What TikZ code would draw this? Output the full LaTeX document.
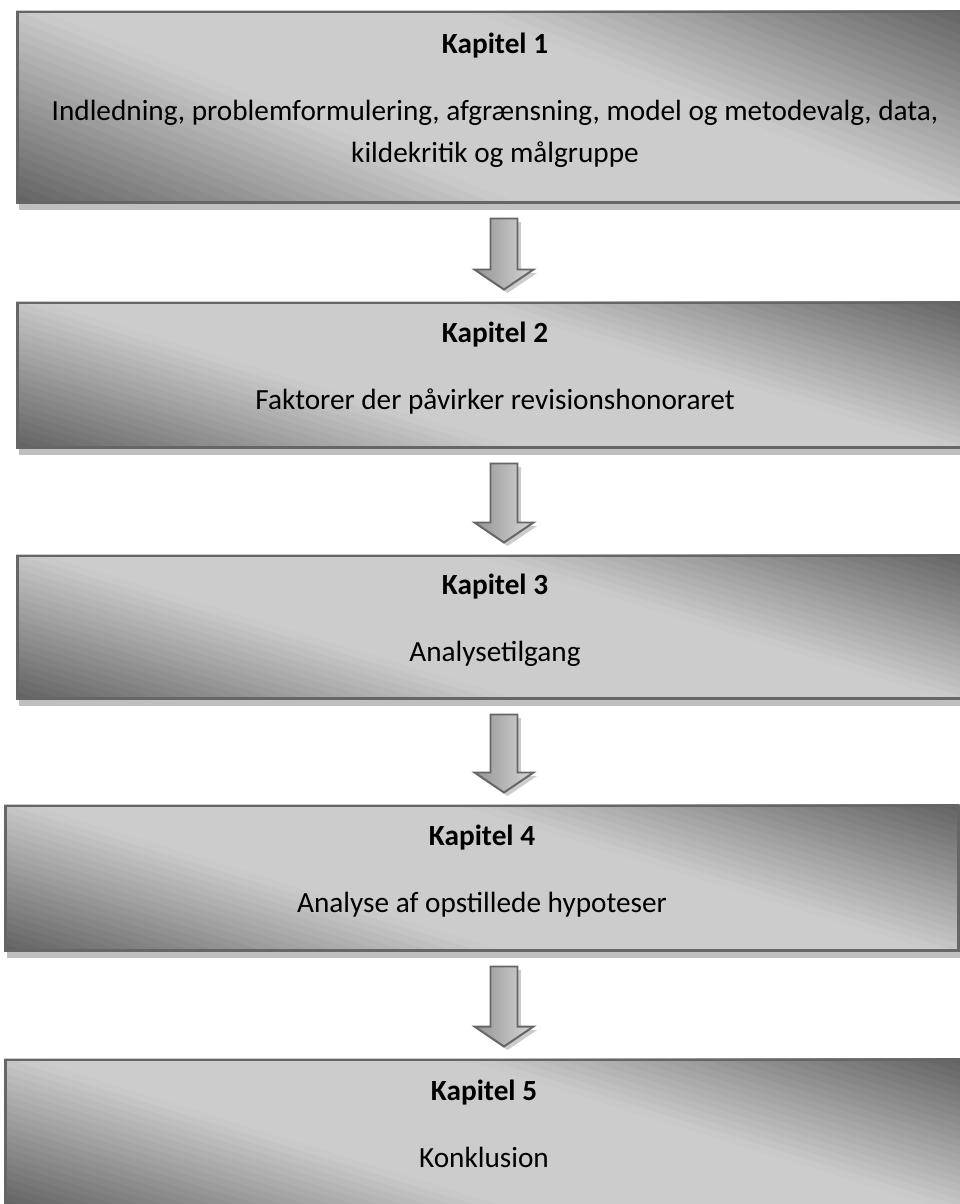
\documentclass[tikz,border=0pt]{standalone}
\usepackage{fontspec}
\setmainfont{Carlito}
\usetikzlibrary{calc,shadows,backgrounds}
\definecolor{morkgraa}{gray}{0.38}
\definecolor{lysgraa}{gray}{0.80}
\definecolor{kant}{gray}{0.40}
\tikzstyle{every picture}=[x=0.025cm,y=0.025cm]
\tikzstyle{kapitel}=[rectangle, draw=kant, line width=2.1pt, align=center, inner sep=0pt,
                     text depth=13pt, font=\fontsize{20.8}{29.9}\selectfont]
\tikzstyle{skygge}=[fill=black!25]
\tikzstyle{pil}=[draw=kant, line width=1.4pt, left color=black!42, right color=black!16,
                 line join=miter, drop shadow={shadow xshift=2.5pt, shadow yshift=-2.5pt, fill=black!20, opacity=1}]
% diagonal toning bag en boks: moerk i hjoernerne nederst til venstre og oeverst til hoejre
\newcommand{\toning}[1]{%
  \begin{pgfonlayer}{background}
  \begin{scope}
    \clip (#1.south west) rectangle (#1.north east);
    \begin{scope}[x={($(#1.south east)-(#1.south west)$)}, y={($(#1.north west)-(#1.south west)$)},
                  shift={(#1.south west)}]
      \foreach \i in {0,...,59} {
        \pgfmathsetmacro{\ta}{\i/60}
        \pgfmathsetmacro{\tb}{(\i+1.1)/60}
        \pgfmathsetmacro{\afst}{min((\i+0.5)/60,1-(\i+0.5)/60)}
        \pgfmathsetmacro{\lys}{100*min(1,\afst/0.35)}
        \fill[lysgraa!\lys!morkgraa] ({(3*\ta+1)/2},-1) -- ({(3*\tb+1)/2},-1)
          -- ({(3*\tb-2)/2},2) -- ({(3*\ta-2)/2},2) -- cycle;
      }
    \end{scope}
  \end{scope}
  \end{pgfonlayer}}

\begin{document}
\begin{tikzpicture}
  \useasboundingbox (0,0) rectangle (960,-1204);
  \coordinate (akse) at (504,0);
  \node[kapitel, minimum width=23.85cm, minimum height=4.75cm] (kap1) at (495,-107)
    {\textbf{Kapitel 1}\\[17.8pt] Indledning, problemformulering, afgrænsning, model og metodevalg, data,\\ kildekritik og målgruppe};
  \node[kapitel, minimum width=23.85cm, minimum height=3.6cm] (kap2) at (495,-375)
    {\textbf{Kapitel 2}\\[17.8pt] Faktorer der påvirker revisionshonoraret};
  \node[kapitel, minimum width=23.85cm, minimum height=3.55cm] (kap3) at (495,-627)
    {\textbf{Kapitel 3}\\[17.8pt] Analysetilgang};
  \node[kapitel, minimum width=23.8cm, minimum height=3.6cm] (kap4) at (482,-878)
    {\textbf{Kapitel 4}\\[17.8pt] Analyse af opstillede hypoteser};
  \node[kapitel, minimum width=23.9cm, minimum height=3.65cm] (kap5) at (484,-1133)
    {\textbf{Kapitel 5}\\[17.8pt] Konklusion};
  \foreach \k in {1,...,5}
    \toning{kap\k};
  \foreach \k in {1,...,4}
    \fill[skygge] ($(kap\k.south west)+(3,0)$) rectangle ($(kap\k.south east)+(0,-6)$);
  \foreach \a/\b in {kap1/kap2,kap2/kap3,kap3/kap4,kap4/kap5}
    \draw[pil] ($(\a.south -| akse)+(-13.5,-15)$) -- ++(27,0)
      -- ($(\b.north -| akse)+(13.5,32)$) -- ++(16,0)
      -- ($(\b.north -| akse)+(0,12)$) -- ++(-29.5,20) -- ++(16,0) -- cycle;
\end{tikzpicture}
\end{document}
